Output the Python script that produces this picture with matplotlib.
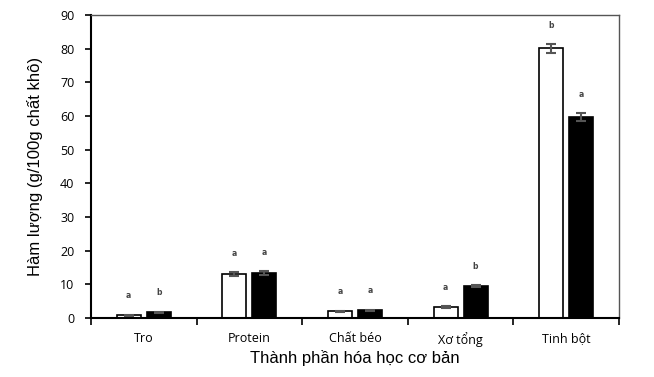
import numpy as np
from matplotlib import pyplot as plt

categories = ['Tro', 'Protein', 'Chất béo', 'Xơ tổng', 'Tinh bột']
white_vals = [0.8, 13.0, 2.0, 3.3, 80.1]
white_err = [0.2, 0.6, 0.2, 0.3, 1.3]
black_vals = [1.7, 13.4, 2.3, 9.5, 59.7]
black_err = [0.2, 0.6, 0.2, 0.3, 1.1]
white_letters = ['a', 'a', 'a', 'a', 'b']
black_letters = ['b', 'a', 'a', 'b', 'a']

fig = plt.figure(figsize=(6.54, 3.77), dpi=100)
ax = fig.add_axes([0.139, 0.1565, 0.8075, 0.8035])

x = np.arange(len(categories))
w = 0.227
off = 0.142

ax.bar(x - off, white_vals, w, color='white', edgecolor='black', linewidth=1.2, zorder=2)
ax.bar(x + off, black_vals, w, color='black', edgecolor='black', linewidth=1.2, zorder=2)
ax.errorbar(x - off, white_vals, yerr=white_err, fmt='none', ecolor='#555555',
            elinewidth=1.5, capsize=3.5, capthick=1.5, zorder=3)
ax.errorbar(x + off, black_vals, yerr=black_err, fmt='none', ecolor='#555555',
            elinewidth=1.5, capsize=3.5, capthick=1.5, zorder=3)

# significance letters above bars
for i in range(len(categories)):
    ax.text(x[i] - off, white_vals[i] + white_err[i] + 4.2, white_letters[i],
            ha='center', va='bottom', fontsize=5.5, fontweight='bold', color='#444444')
    ax.text(x[i] + off, black_vals[i] + black_err[i] + 4.2, black_letters[i],
            ha='center', va='bottom', fontsize=5.5, fontweight='bold', color='#444444')

ax.set_xlim(-0.5, len(categories) - 0.5)
ax.set_ylim(0, 90)
ax.set_yticks(np.arange(0, 91, 10))
ax.set_xticks(np.arange(-0.5, len(categories) + 0.5, 1))
ax.set_xticklabels([])
ax.set_xticks(x, minor=True)
ax.set_xticklabels(categories, minor=True)
for lab in ax.get_xticklabels(minor=True) + ax.get_yticklabels():
    lab.set_family('Open Sans')
ax.tick_params(axis='x', which='minor', length=0, pad=10, labelsize=9)
ax.tick_params(axis='x', which='major', length=5, width=1.2, direction='out')
ax.tick_params(axis='y', length=4, width=1.2, direction='out', labelsize=9, pad=8)

for s in ['top', 'right']:
    ax.spines[s].set_color('#555555')
    ax.spines[s].set_linewidth(1.0)
for s in ['left', 'bottom']:
    ax.spines[s].set_color('black')
    ax.spines[s].set_linewidth(1.5)

ax.set_xlabel('Thành phần hóa học cơ bản', fontsize=12, family='Liberation Sans', labelpad=2)
ax.set_ylabel('Hàm lượng (g/100g chất khô)', fontsize=12, family='Liberation Sans', labelpad=12)

plt.savefig('out.png', dpi=100)
